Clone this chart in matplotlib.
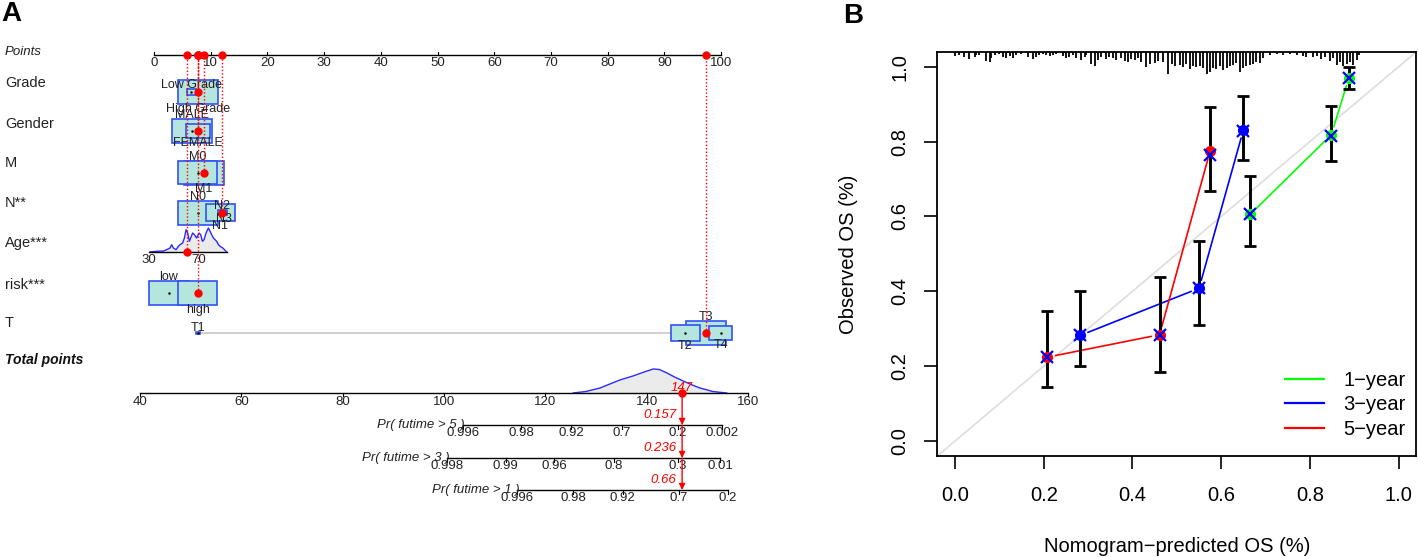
import numpy as np
import matplotlib
matplotlib.use("Agg")
import matplotlib.pyplot as plt
from matplotlib.patches import Rectangle
from matplotlib.lines import Line2D
from matplotlib.transforms import blended_transform_factory

plt.rcParams['font.family'] = ['Liberation Sans', 'DejaVu Sans']

# ---------------- nomogram data (panel A) ----------------
points_ticks = [0, 10, 20, 30, 40, 50, 60, 70, 80, 90, 100]

grade_levels = ["Low Grade", "High Grade"]
grade_pts = [6.6, 7.7]
grade_freq = [0.05, 0.95]

gender_levels = ["MALE", "FEMALE"]
gender_pts = [6.7, 7.7]
gender_freq = [0.74, 0.26]

m_levels = ["M0", "M1"]
m_pts = [7.7, 8.8]
m_freq = [0.48, 0.52]

n_levels = ["N0", "N1", "N2", "N3"]
n_pts = [7.7, 11.7, 12.0, 12.3]
n_freq = [0.58, 0.30, 0.03, 0.005]

risk_levels = ["low", "high"]
risk_pts = [2.6, 7.7]
risk_freq = [0.51, 0.49]

t_levels = ["T1", "T2", "T3", "T4"]
t_pts = [7.7, 93.7, 97.3, 99.9]
t_freq = [0.005, 0.25, 0.5, 0.16]

# age scale: points = (age - age_at_zero) * pts_per_year
age_at_zero = 34.0
age_pts_per_year = 0.2205
age_ticks = [30, 70]
age_range = [30, 92]
age_grid = [30.8, 36.1, 41.5, 44.1, 46.8, 48.1, 49.5, 51.6, 53.5, 54.8, 56.9, 58.3,
            59.6, 60.9, 62.3, 63.3, 64.9, 66.3, 68.1, 70.0, 71.3, 72.7, 74.0, 75.6,
            77.5, 78.8, 80.1, 81.5, 82.8, 84.1, 85.5, 86.8, 89.0, 90.8, 92.1]
age_dens = [0, 0.7, 1, 2.3, 4, 7.3, 4, 2.3, 5.7, 7.3, 9, 14,
            22.3, 19, 10.7, 14, 19, 17.3, 14, 19, 17.3, 10.7, 12.3, 19,
            24, 20.7, 17.3, 14, 12.3, 10.7, 7.3, 5.7, 4, 1.7, 0]

total_ticks = [40, 60, 80, 100, 120, 140, 160]
total_grid = [125.5, 128, 130.8, 132.5, 134.7, 137.3, 139.5, 141.3, 142.5, 144,
              145.5, 147.2, 149, 150.5, 152, 153, 155.8]
total_dens = [0, 1.5, 5, 8.5, 13, 17, 21, 24, 23.5, 20, 16, 12, 8, 5, 3, 1.5, 0]

pr5_labels = ["0.996", "0.98", "0.92", "0.7", "0.2", "0.002"]
pr5_tp = [103.7, 115.2, 125.1, 135.1, 146.2, 154.9]
pr3_labels = ["0.998", "0.99", "0.96", "0.8", "0.3", "0.01"]
pr3_tp = [100.6, 112.2, 121.7, 133.5, 146.2, 154.5]
pr1_labels = ["0.996", "0.98", "0.92", "0.7", "0.2"]
pr1_tp = [114.4, 125.5, 135.3, 146.4, 156.0]

# the highlighted patient
patient = {"Grade": "High Grade", "Gender": "FEMALE", "M": "M1", "N**": "N2",
           "risk***": "high", "T": "T3"}
patient_age = 60
patient_total = 147
patient_pred = {"5": "0.157", "3": "0.236", "1": "0.66"}

# ---------------- calibration data (panel B) ----------------
cal1_x = [0.666, 0.848, 0.888]
cal1_y = [0.606, 0.818, 0.971]
cal1_corr = [0.606, 0.815, 0.971]
cal1_lo = [0.520, 0.749, 0.941]
cal1_hi = [0.709, 0.895, 1.000]

cal3_x = [0.282, 0.550, 0.650]
cal3_y = [0.282, 0.408, 0.831]
cal3_corr = [0.282, 0.408, 0.828]
cal3_lo = [0.200, 0.309, 0.751]
cal3_hi = [0.402, 0.535, 0.922]

cal5_x = [0.208, 0.461, 0.575]
cal5_y = [0.224, 0.284, 0.775]
cal5_corr = [0.224, 0.284, 0.765]
cal5_lo = [0.145, 0.185, 0.669]
cal5_hi = [0.347, 0.437, 0.893]

# distribution of predicted values (spikes at top), lengths in px
spike_x = [0.000, 0.010, 0.021, 0.032, 0.044, 0.047, 0.055, 0.070, 0.078, 0.081, 0.089, 0.100,
           0.108, 0.115, 0.123, 0.130, 0.138, 0.149, 0.164, 0.175, 0.183, 0.190, 0.198,
           0.205, 0.213, 0.220, 0.228, 0.243, 0.251, 0.258, 0.266, 0.273, 0.284, 0.292, 0.296,
           0.307, 0.315, 0.322, 0.330, 0.341, 0.348, 0.356, 0.363, 0.375, 0.382, 0.390, 0.397,
           0.405, 0.412, 0.420, 0.431, 0.439, 0.450, 0.457, 0.469, 0.480, 0.488, 0.495,
           0.506, 0.514, 0.521, 0.529, 0.536, 0.544, 0.552, 0.559, 0.567, 0.574, 0.582, 0.589, 0.597,
           0.604, 0.612, 0.619, 0.627, 0.634, 0.642, 0.649, 0.657, 0.664, 0.672, 0.679, 0.687, 0.694,
           0.710, 0.725, 0.740, 0.755, 0.770, 0.785, 0.792,
           0.807, 0.815, 0.826, 0.834, 0.845, 0.853, 0.860, 0.868, 0.875, 0.883, 0.890, 0.898, 0.905, 0.911]
spike_len = [4, 3, 5, 7, 5, 3, 3, 9, 10, 6, 3, 2,
             5, 6, 4, 6, 3, 2, 5, 7, 5, 3, 2,
             3, 4, 3, 2, 4, 6, 5, 3, 6, 8, 5, 3,
             12, 14, 8, 5, 7, 5, 6, 8, 6, 9, 10, 7,
             8, 6, 10, 15, 12, 11, 9, 10, 22, 12, 14,
             13, 15, 12, 17, 14, 15, 14, 16, 22, 20, 16, 17, 14,
             18, 16, 14, 13, 11, 20, 16, 14, 13, 12, 10, 11, 6,
             3, 2, 3, 2, 3, 4, 5,
             5, 4, 7, 5, 9, 6, 13, 10, 14, 12, 10, 13, 8, 3]

# ---------------- figure ----------------
W, H = 1418, 557
fig = plt.figure(figsize=(W / 100, H / 100), dpi=100)

fig.text(1 / W, 1 - 1 / H, "A", fontsize=20, fontweight='bold', va='top', ha='left')
fig.text(843 / W, 1 - 3 / H, "B", fontsize=20, fontweight='bold', va='top', ha='left')

# ===== panel A =====
ax = fig.add_axes([0, 0, 830 / W, 1])
ax.set_xlim(-27.16, 119.2)
ax.set_ylim(H, 0)
ax.axis('off')

# vertical layout (rows, in px from top)
ROW = {"Points": 55, "Grade": 92, "Gender": 131, "M": 172.5, "N**": 212.5,
       "Age***": 252, "risk***": 293, "T": 333, "Total": 393,
       "pr5": 425, "pr3": 458, "pr1": 490}
LABEL_Y = {"Points": 52, "Grade": 83, "Gender": 124, "M": 163, "N**": 203,
           "Age***": 243, "risk***": 285, "T": 323, "Total": 360}

BOX_W = 7.05      # points units for the most frequent level
BOX_H = 24        # px
BOX_FC = '#b4e6de'
BOX_EC = '#3350f5'
RED = '#ff0000'
TXT = '#222222'
lab_tr = blended_transform_factory(ax.transAxes, ax.transData)


def tp_to_x(tp):
    return -2.469 + (tp - 40) * 0.8934


# row labels
for name in ["Grade", "Gender", "M", "N**", "Age***", "risk***", "T"]:
    ax.text(0.006, LABEL_Y[name], name, transform=lab_tr, fontsize=10.5,
            ha='left', va='center', color=TXT)
ax.text(0.006, LABEL_Y["Points"], "Points", transform=lab_tr, fontsize=9.5,
        style='italic', ha='left', va='center', color=TXT)
ax.text(0.006, LABEL_Y["Total"], "Total points", transform=lab_tr, fontsize=10,
        style='italic', fontweight='bold', ha='left', va='center', color='#111111')

# points axis
yp = ROW["Points"]
ax.plot([points_ticks[0], points_ticks[-1]], [yp, yp], color='k', lw=1, zorder=2)
for t in points_ticks:
    ax.plot([t, t], [yp, yp - 3], color='k', lw=0.8)
    ax.text(t, yp + 2, str(t), ha='center', va='top', fontsize=9.5, color=TXT)

factors = [("Grade", grade_levels, grade_pts, grade_freq),
           ("Gender", gender_levels, gender_pts, gender_freq),
           ("M", m_levels, m_pts, m_freq),
           ("N**", n_levels, n_pts, n_freq),
           ("risk***", risk_levels, risk_pts, risk_freq),
           ("T", t_levels, t_pts, t_freq)]

chosen_pts = []
for name, levels, pts, freq in factors:
    y = ROW[name]
    fmax = max(freq)
    sizes = [np.sqrt(f / fmax) for f in freq]
    ax.plot([min(pts), max(pts)], [y, y], color='#cccccc', lw=1.3, zorder=1)
    order = sorted(range(len(levels)), key=lambda i: -freq[i])
    for i in order:
        w = BOX_W * sizes[i]
        h = BOX_H * sizes[i]
        ax.add_patch(Rectangle((pts[i] - w / 2, y - h / 2), w, h, fc=BOX_FC,
                               ec=BOX_EC, lw=1.2, zorder=2))
        ax.plot(pts[i], y, '.', color='k', ms=1.5, zorder=3)
    for i, lev in enumerate(levels):
        h = BOX_H * sizes[i]
        if i % 2 == 0:
            ax.text(pts[i], y - h / 2 + 2, lev, ha='center', va='bottom',
                    fontsize=9, color=TXT, zorder=4)
        else:
            ax.text(pts[i], y + h / 2 - 1, lev, ha='center', va='top',
                    fontsize=9, color=TXT, zorder=4)
    k = levels.index(patient[name])
    chosen_pts.append((pts[k], y))

# age row
ya = ROW["Age***"]
ag = np.array(age_grid)
ad = np.array(age_dens)
ax_age = (ag - age_at_zero) * age_pts_per_year
ax.fill_between(ax_age, ya, ya - ad / ad.max() * 24, color='#ebebeb', lw=0, zorder=1)
ax.plot(ax_age, ya - ad / ad.max() * 24, color='#2a2aff', lw=1, zorder=2)
a0, a1 = [(a - age_at_zero) * age_pts_per_year for a in age_range]
ax.plot([a0, a1], [ya, ya], color='k', lw=1, zorder=2)
for a in age_ticks:
    xa = (a - age_at_zero) * age_pts_per_year
    ax.text(xa, ya + 2, str(a), ha='center', va='top', fontsize=9.5, color=TXT)
chosen_pts.append(((patient_age - age_at_zero) * age_pts_per_year, ya))

# patient: dotted lines to the points axis and dots
for xc, yc in chosen_pts:
    ax.plot([xc, xc], [yc, yp], color=RED, ls=(0, (1, 1.5)), lw=1, zorder=5)
    ax.plot(xc, yc, 'o', color=RED, ms=5, zorder=6)
    ax.plot(xc, yp, 'o', color=RED, ms=5, zorder=6)

# total points axis + density
yt = ROW["Total"]
tg = np.array([tp_to_x(v) for v in total_grid])
td = np.array(total_dens)
ax.fill_between(tg, yt, yt - td / td.max() * 24, color='#ebebeb', lw=0, zorder=1)
ax.plot(tg, yt - td / td.max() * 24, color='#2a2aff', lw=1, zorder=2)
ax.plot([tp_to_x(total_ticks[0]), tp_to_x(total_ticks[-1])], [yt, yt], color='k', lw=1, zorder=2)
for t in total_ticks:
    ax.plot([tp_to_x(t)] * 2, [yt, yt + 3], color='k', lw=0.8)
    ax.text(tp_to_x(t), yt + 3, str(t), ha='center', va='top', fontsize=9.5, color=TXT)

# probability axes
xtot = tp_to_x(patient_total)
pr_axes = [("Pr( futime > 5 )", pr5_tp, pr5_labels, patient_pred["5"], ROW["pr5"]),
           ("Pr( futime > 3 )", pr3_tp, pr3_labels, patient_pred["3"], ROW["pr3"]),
           ("Pr( futime > 1 )", pr1_tp, pr1_labels, patient_pred["1"], ROW["pr1"])]
prev_y = yt
for lab, tps, tls, pred, y in pr_axes:
    xs = [tp_to_x(v) for v in tps]
    ax.plot([xs[0], xs[-1]], [y, y], color='k', lw=1, zorder=2)
    for xx, tl in zip(xs, tls):
        ax.plot([xx, xx], [y, y + 4], color='k', lw=0.8)
        ax.text(xx, y + 2, tl, ha='center', va='top', fontsize=9.5, color=TXT)
    ax.text(xs[0] + 0.4, y, lab, ha='right', va='center', fontsize=9.5,
            style='italic', color=TXT)
    ax.annotate(pred, xy=(xtot, y), xytext=(-6, 4), textcoords='offset pixels',
                ha='right', va='bottom', fontsize=9.5, style='italic', color=RED)
    ax.annotate('', xy=(xtot, y), xytext=(xtot, prev_y),
                arrowprops=dict(arrowstyle='-|>', color=RED, lw=1, mutation_scale=9,
                                shrinkA=0, shrinkB=0), zorder=6)
    prev_y = y

ax.plot(xtot, yt, 'o', color=RED, ms=5, zorder=7)
ax.annotate(str(patient_total), xy=(xtot, yt), xytext=(0, -1), textcoords='offset pixels',
            ha='center', va='bottom', fontsize=9.5, style='italic', color=RED, zorder=7)

# ===== panel B =====
x0, x1, y0, y1 = 937.3, 1416.4, 51.7, 456
ax2 = fig.add_axes([x0 / W, 1 - y1 / H, (x1 - x0) / W, (y1 - y0) / H])
ax2.set_xlim(-0.04, 1.04)
ax2.set_ylim(-0.04, 1.04)
for s in ax2.spines.values():
    s.set_linewidth(1.3)

ax2.plot([-0.04, 1.04], [-0.04, 1.04], color='#dddddd', lw=1.2, zorder=1)

px_per_y = (y1 - y0) / 1.08
sl = np.array(spike_len) / px_per_y
ax2.vlines(spike_x, 1.04 - sl, 1.04, color='black', lw=1.3, zorder=2)

series = [(cal1_x, cal1_y, cal1_corr, cal1_lo, cal1_hi, '#00ff00'),
          (cal3_x, cal3_y, cal3_corr, cal3_lo, cal3_hi, '#0000ff'),
          (cal5_x, cal5_y, cal5_corr, cal5_lo, cal5_hi, '#ff0000')]
for xs, ys, yc, lo, hi, col in series:
    for i in range(len(xs) - 1):
        ax2.annotate('', xy=(xs[i + 1], ys[i + 1]), xytext=(xs[i], ys[i]),
                     arrowprops=dict(arrowstyle='-', color=col, lw=1.2,
                                     shrinkA=6, shrinkB=6), zorder=3)
for xs, ys, yc, lo, hi, col in series:
    ax2.errorbar(xs, ys, yerr=[np.array(ys) - np.array(lo), np.array(hi) - np.array(ys)],
                 fmt='none', ecolor='black', elinewidth=2.1, capsize=4.3, capthick=2.0,
                 zorder=4)
for xs, ys, yc, lo, hi, col in series:
    ax2.plot(xs, ys, 'o', color=col, ms=7, mec=col, zorder=5)
    ax2.plot(xs, yc, 'x', color='#0000ff', ms=8, mew=1.6, zorder=6)

ticks = [0.0, 0.2, 0.4, 0.6, 0.8, 1.0]
ax2.set_xticks(ticks)
ax2.set_yticks(ticks)
ax2.set_xticklabels([f"{t:.1f}" for t in ticks], fontsize=14.5)
ax2.set_yticklabels([f"{t:.1f}" for t in ticks], fontsize=14.5, rotation=90, va='center')
ax2.tick_params(axis='x', length=9.4, width=1.2, pad=12)
ax2.tick_params(axis='y', length=9.4, width=1.2, pad=10.5)

fig.text(1177 / W, 1 - 547 / H, "Nomogram\u2212predicted OS (%)", fontsize=14.5,
         ha='center', va='center')
fig.text(849 / W, 1 - 254 / H, "Observed OS (%)", fontsize=14.5, rotation=90,
         ha='center', va='center')

handles = [Line2D([], [], color='#00ff00', lw=1.6),
           Line2D([], [], color='#0000ff', lw=1.6),
           Line2D([], [], color='#ff0000', lw=1.6)]
ax2.legend(handles, ["1\u2212year", "3\u2212year", "5\u2212year"], loc='center left',
           bbox_to_anchor=((1285 - x0) / (x1 - x0), (y1 - 405) / (y1 - y0)),
           frameon=False, fontsize=14.5, handlelength=1.95, handletextpad=0.95,
           labelspacing=0.28, borderpad=0, borderaxespad=0)

fig.savefig("out.png", dpi=100)
